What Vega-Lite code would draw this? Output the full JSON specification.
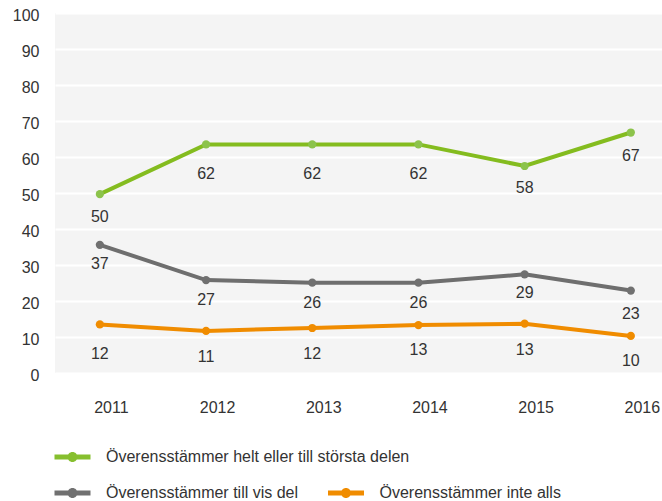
{
  "$schema": "https://vega.github.io/schema/vega-lite/v6.json",
  "width": 607,
  "height": 360,
  "autosize": {"type": "none"},
  "padding": {"left": 55, "top": 13, "right": 0, "bottom": 128},
  "background": "white",
  "config": {
    "font": "Liberation Sans",
    "view": {"fill": "#f4f4f4", "stroke": null},
    "axis": {"labelFont": "Liberation Sans", "labelFontSize": 16, "labelColor": "#333333", "ticks": false, "domain": false, "title": null},
    "legend": {"padding": 0, "labelFont": "Liberation Sans", "labelFontSize": 16, "labelColor": "#333333", "title": null, "labelLimit": 500}
  },
  "data": {"values": [
    {"year": "2011", "series": "Överensstämmer helt eller till största delen", "value": 49.7, "label": 50},
    {"year": "2012", "series": "Överensstämmer helt eller till största delen", "value": 63.5, "label": 62},
    {"year": "2013", "series": "Överensstämmer helt eller till största delen", "value": 63.5, "label": 62},
    {"year": "2014", "series": "Överensstämmer helt eller till största delen", "value": 63.5, "label": 62},
    {"year": "2015", "series": "Överensstämmer helt eller till största delen", "value": 57.5, "label": 58},
    {"year": "2016", "series": "Överensstämmer helt eller till största delen", "value": 66.8, "label": 67},
    {"year": "2011", "series": "Överensstämmer till vis del", "value": 35.6, "label": 37},
    {"year": "2012", "series": "Överensstämmer till vis del", "value": 25.8, "label": 27},
    {"year": "2013", "series": "Överensstämmer till vis del", "value": 25.1, "label": 26},
    {"year": "2014", "series": "Överensstämmer till vis del", "value": 25.1, "label": 26},
    {"year": "2015", "series": "Överensstämmer till vis del", "value": 27.4, "label": 29},
    {"year": "2016", "series": "Överensstämmer till vis del", "value": 22.9, "label": 23},
    {"year": "2011", "series": "Överensstämmer inte alls", "value": 13.5, "label": 12},
    {"year": "2012", "series": "Överensstämmer inte alls", "value": 11.7, "label": 11},
    {"year": "2013", "series": "Överensstämmer inte alls", "value": 12.5, "label": 12},
    {"year": "2014", "series": "Överensstämmer inte alls", "value": 13.3, "label": 13},
    {"year": "2015", "series": "Överensstämmer inte alls", "value": 13.7, "label": 13},
    {"year": "2016", "series": "Överensstämmer inte alls", "value": 10.3, "label": 10}
  ]},
  "encoding": {
    "x": {
      "field": "year", "type": "ordinal",
      "scale": {"type": "point", "padding": 0.358, "align": 0.59},
      "axis": {"labelAngle": 0, "labelPadding": 26, "labelOffset": 11, "grid": false}
    }
  },
  "layer": [
    {
      "mark": {"type": "line", "strokeWidth": 4, "clip": false},
      "encoding": {
        "y": {
          "field": "value", "type": "quantitative",
          "scale": {"domain": [0, 100], "nice": false},
          "axis": {"values": [0, 10, 20, 30, 40, 50, 60, 70, 80, 90, 100], "gridColor": "white", "gridWidth": 2, "gridOpacity": 1, "labelPadding": 16, "labelOffset": 2}
        },
        "stroke": {
          "field": "series", "type": "nominal",
          "scale": {"domain": ["Överensstämmer helt eller till största delen", "Överensstämmer till vis del", "Överensstämmer inte alls"], "range": ["#84bc1f", "#6e6e6e", "#f08c00"]},
          "legend": {
            "values": ["Överensstämmer helt eller till största delen"],
            "orient": "none", "legendX": 9.5, "legendY": 436,
            "symbolType": "M-3.6,-0.5H3.6V0.5H-3.6Z M-1,0A1,1 0 1,1 1,0A1,1 0 1,1 -1,0Z",
            "symbolSize": 100, "labelOffset": 25.5,
            "encode": {"symbols": {"update": {"fill": {"value": "#86bf2e"}, "strokeWidth": {"value": 0}, "opacity": {"value": 1}}}}
          }
        }
      }
    },
    {
      "mark": {"type": "point", "filled": true, "size": 68, "opacity": 1, "clip": false},
      "encoding": {
        "y": {
          "field": "value", "type": "quantitative",
          "axis": {"values": [0, 10, 20, 30, 40, 50, 60, 70, 80, 90, 100], "gridColor": "white", "gridWidth": 2, "gridOpacity": 1, "labelPadding": 16, "labelOffset": 2}
        },
        "fill": {
          "field": "series", "type": "nominal",
          "scale": {"domain": ["Överensstämmer till vis del", "Överensstämmer inte alls", "Överensstämmer helt eller till största delen"], "range": ["#707070", "#f08c00", "#8cc34b"]},
          "legend": {
            "values": ["Överensstämmer till vis del", "Överensstämmer inte alls"],
            "orient": "none", "direction": "horizontal", "legendX": 9.5, "legendY": 472,
            "symbolType": "M-3.6,-0.5H3.6V0.5H-3.6Z M-1,0A1,1 0 1,1 1,0A1,1 0 1,1 -1,0Z",
            "symbolSize": 100, "labelOffset": 25.5, "columnPadding": 29.5, "symbolStrokeWidth": 0, "symbolOpacity": 1
          }
        }
      }
    },
    {
      "mark": {"type": "text", "dy": 24, "fontSize": 16, "color": "#333333", "font": "Liberation Sans"},
      "encoding": {
        "y": {
          "field": "label", "type": "quantitative",
          "axis": {"values": [0, 10, 20, 30, 40, 50, 60, 70, 80, 90, 100], "gridColor": "white", "gridWidth": 2, "gridOpacity": 1, "labelPadding": 16, "labelOffset": 2}
        },
        "text": {"field": "label", "type": "quantitative"}
      }
    }
  ]
}
